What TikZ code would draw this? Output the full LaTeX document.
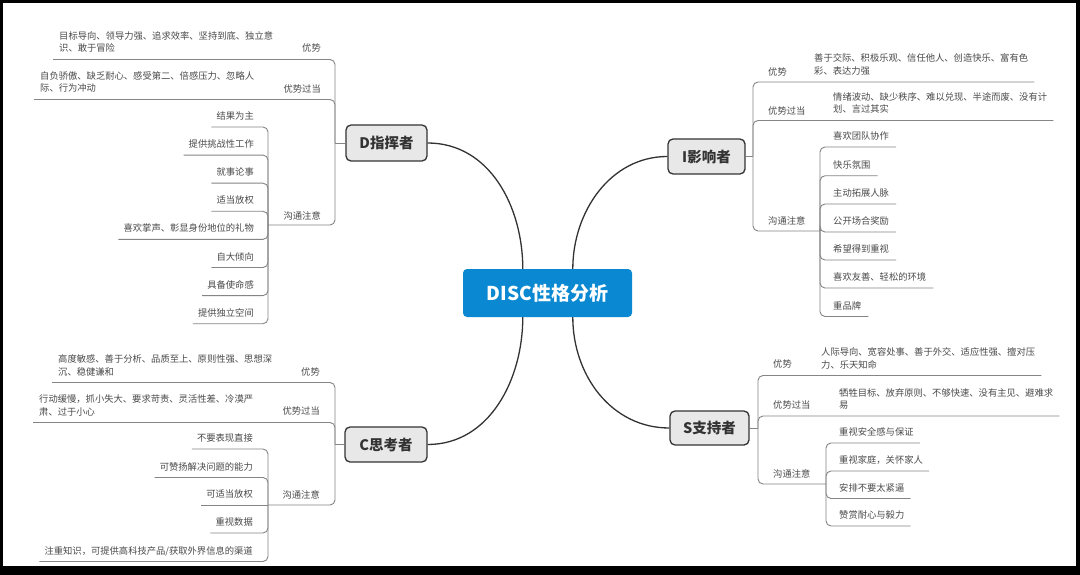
\documentclass[tikz,border=0pt]{standalone}
\usepackage{fontspec}
\setmainfont{Noto Sans CJK SC}
\usetikzlibrary{calc}
\definecolor{txtc}{HTML}{4A4A4A}
\definecolor{lnc}{HTML}{858585}
\definecolor{dkc}{HTML}{333333}
\definecolor{bluc}{HTML}{0A89D2}
\definecolor{boxc}{HTML}{E8E8E8}
\newcommand{\twoline}[2]{\begin{tabular}[t]{@{}l@{}}#1\\#2\end{tabular}}
\begin{document}
\begin{tikzpicture}[x=1pt,y=-1pt,
  tx/.style={inner sep=0pt, font=\fontsize{9.3}{12.5}\selectfont, text=txtc},
  lkid/.style={tx, anchor=base east},
  rkid/.style={tx, anchor=base west},
  topic/.style={draw=dkc, line width=1.3pt, fill=boxc, rounded corners=5pt,
    inner sep=0pt, font=\fontsize{14.5}{16}\selectfont\bfseries, text=dkc},
  root/.style={fill=bluc, rounded corners=4pt, inner sep=0pt,
    font=\fontsize{19}{21}\selectfont\bfseries, text=white},
  br/.style={draw=lnc, line width=0.9pt, rounded corners=5pt},
  curve/.style={draw=dkc, line width=1.3pt},
]
\useasboundingbox (0,0) rectangle (1080,575);
\fill[black] (0,0) rectangle (1080,575);
\fill[white] (3,3) rectangle (1076,566);

% topics
\node[root, minimum width=169pt, minimum height=48pt] (ctr) at (547.5,293) {DISC性格分析};
\node[topic, minimum width=81pt, minimum height=36pt] (D) at (386.5,143) {D指挥者};
\node[topic, minimum width=77pt, minimum height=35pt] (I) at (706.5,156.5) {I影响者};
\node[topic, minimum width=82pt, minimum height=35pt] (C) at (386,444.5) {C思考者};
\node[topic, minimum width=79pt, minimum height=34pt] (S) at (709.5,428) {S支持者};

% root connectors
\coordinate (cD) at ($(ctr.north west)+(60,0)$);
\coordinate (cI) at ($(ctr.north west)+(110,0)$);
\coordinate (cC) at ($(ctr.south west)+(60,0)$);
\coordinate (cS) at ($(ctr.south west)+(110,0)$);
\draw[curve] (cD) .. controls ($(cD)+(0,-62)$) and ($(D.east)+(62,0)$) .. (D.east);
\draw[curve] (cI) .. controls ($(cI)+(0,-57)$) and ($(I.west)+(-57,0)$) .. (I.west);
\draw[curve] (cC) .. controls ($(cC)+(0,62)$) and ($(C.east)+(62,0)$) .. (C.east);
\draw[curve] (cS) .. controls ($(cS)+(0,58)$) and ($(S.west)+(-58,0)$) .. (S.west);

% ---------------- D ----------------
\coordinate (Dj) at (335,143);
\coordinate (Dcj) at (268,225);
\draw[br] (D.west) -- (Dj);
\node[lkid] (Da) at (321,51.5) {优势};
\node[tx, anchor=base west] (Dad) at (59,39.5) {\twoline{目标导向、领导力强、追求效率、坚持到底、独立意}{识、敢于冒险}};
\node[lkid] (Db) at (321,92.5) {优势过当};
\node[tx, anchor=base west] (Dbd) at (40,79.5) {\twoline{自负骄傲、缺乏耐心、感受第二、倍感压力、忽略人}{际、行为冲动}};
\node[lkid] (Dc) at (321,219) {沟通注意};
\draw[br] (Dj) |- ($(Dad.base west)+(-6,20)$);
\draw[br] (Dj) |- ($(Dbd.base west)+(-6,20)$);
\draw[br] (Dj) |- (Dcj);
\foreach \n/\y/\t in {1/116/结果为主, 2/144.1/提供挑战性工作, 3/172.2/就事论事, 4/200.3/适当放权,
  5/228.4/喜欢掌声、彰显身份地位的礼物, 6/256.5/自大倾向, 7/284.6/具备使命感, 8/312.7/提供独立空间} {
  \node[lkid] (Dk\n) at (254,\y+3.5) {\t};
  \draw[br] (Dcj) |- ($(Dk\n.base west)+(-5,7.5)$);
}

% ---------------- C ----------------
\coordinate (Cj) at (335,444.5);
\coordinate (Ccj) at (268,505);
\draw[br] (C.west) -- (Cj);
\node[lkid] (Ca) at (320,375.5) {优势};
\node[tx, anchor=base west] (Cad) at (58,362.5) {\twoline{高度敏感、善于分析、品质至上、原则性强、思想深}{沉、稳健谦和}};
\node[lkid] (Cb) at (320,414.5) {优势过当};
\node[tx, anchor=base west] (Cbd) at (39,402.5) {\twoline{行动缓慢，抓小失大、要求苛责、灵活性差、冷漠严}{肃、过于小心}};
\node[lkid] (Cc) at (320,498.5) {沟通注意};
\draw[br] (Cj) |- ($(Cad.base west)+(-6,20)$);
\draw[br] (Cj) |- ($(Cbd.base west)+(-6,20)$);
\draw[br] (Cj) |- (Ccj);
\node[lkid] (Ck1) at (253,441.5) {不要表现直接};
\node[lkid] (Ck2) at (253,470) {可赞扬解决问题的能力};
\node[lkid] (Ck3) at (253,497.5) {可适当放权};
\node[lkid] (Ck4) at (253,525.5) {重视数据};
\node[lkid] (Ck5) at (253,554) {注重知识，可提供高科技产品/获取外界信息的渠道};
\draw[br] (Ccj) |- ($(Ck1.base west)+(-5,7.5)$);
\draw[br] (Ccj) |- ($(Ck2.base west)+(-5,7.5)$);
\draw[br] (Ccj) -- ($(Ck3.base west)+(-5,7.5)$);
\draw[br] (Ccj) |- ($(Ck4.base west)+(-5,7.5)$);
\draw[br] (Ccj) |- ($(Ck5.base west)+(-5,7.5)$);

% ---------------- I ----------------
\coordinate (Ij) at (753,156.5);
\coordinate (Icj) at (820,231);
\draw[br] (I.east) -- (Ij);
\node[rkid] (Ia) at (768,75.5) {优势};
\node[tx, anchor=base west] (Iad) at (814,62) {\twoline{善于交际、积极乐观、信任他人、创造快乐、富有色}{彩、表达力强}};
\node[rkid] (Ib) at (768,114.5) {优势过当};
\node[tx, anchor=base west] (Ibd) at (833,100.5) {\twoline{情绪波动、缺少秩序、难以兑现、半途而废、没有计}{划、言过其实}};
\node[rkid] (Ic) at (768,224.5) {沟通注意};
\draw[br] (Ij) |- ($(Iad.base east)+(6,20)$);
\draw[br] (Ij) |- ($(Ibd.base east)+(6,20)$);
\draw[br] (Ij) |- (Icj);
\foreach \n/\y/\t in {1/136/喜欢团队协作, 2/164.8/快乐氛围, 3/193/主动拓展人脉, 4/221/公开场合奖励,
  5/249/希望得到重视, 6/277/喜欢友善、轻松的环境, 7/305.5/重品牌} {
  \node[rkid] (Ik\n) at (833,\y+3.5) {\t};
  \draw[br] (Icj) |- ($(Ik\n.base east)+(7,7.5)$);
}

% ---------------- S ----------------
\coordinate (Sj) at (758,428);
\coordinate (Scj) at (826,484);
\draw[br] (S.east) -- (Sj);
\node[rkid] (Sa) at (773,367.5) {优势};
\node[tx, anchor=base west] (Sad) at (821,355.5) {\twoline{人际导向、宽容处事、善于外交、适应性强、擅对压}{力、乐天知命}};
\node[rkid] (Sb) at (773,408.5) {优势过当};
\node[tx, anchor=base west] (Sbd) at (839,396) {\twoline{牺牲目标、放弃原则、不够快速、没有主见、避难求}{易}};
\node[rkid] (Sc) at (773,477.5) {沟通注意};
\draw[br] (Sj) |- ($(Sad.base east)+(6,20)$);
\draw[br] (Sj) |- ($(Sbd.base east)+(6,20)$);
\draw[br] (Sj) |- (Scj);
\foreach \n/\y/\t in {1/432/重视安全感与保证, 2/460/重视家庭，关怀家人, 3/487.5/安排不要太紧逼, 4/515/赞赏耐心与毅力} {
  \node[rkid] (Sk\n) at (839,\y+3.5) {\t};
  \draw[br] (Scj) |- ($(Sk\n.base east)+(6,7.5)$);
}
\end{tikzpicture}
\end{document}
